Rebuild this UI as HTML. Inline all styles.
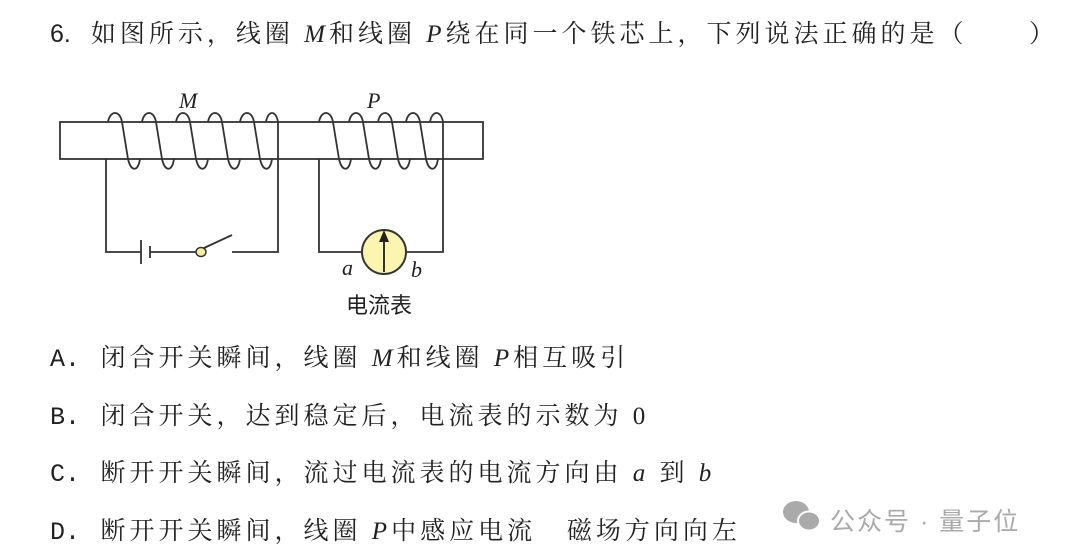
<!DOCTYPE html>
<html><head><meta charset="utf-8"><style>
body{margin:0;width:1080px;height:559px;background:#fff;position:relative;overflow:hidden;font-family:"Liberation Serif","Noto Serif CJK SC",serif;color:#222}
.t{position:absolute;font-size:25px;letter-spacing:4px;white-space:nowrap;line-height:30px}
.n{font-family:"Liberation Mono",monospace;letter-spacing:0}
i{font-family:"Liberation Serif",serif}
svg{position:absolute;left:0;top:0}
</style></head><body>
<div class="t" style="left:50px;top:19px"><span class="n" style="font-family:'Liberation Sans',sans-serif">6.</span><span style="display:inline-block;width:20px"></span>如图所示，线圈 <i>M</i>和线圈 <i>P</i>绕在同一个铁芯上，下列说法正确的是（&nbsp;&nbsp;&nbsp;&nbsp;&nbsp;&nbsp;）</div>
<div class="t" style="left:50px;top:344px"><span class="n">A.</span>&nbsp; 闭合开关瞬间，线圈 <i>M</i>和线圈 <i>P</i>相互吸引</div>
<div class="t" style="left:50px;top:402px"><span class="n">B.</span>&nbsp; 闭合开关，达到稳定后，电流表的示数为 0</div>
<div class="t" style="left:50px;top:459px"><span class="n">C.</span>&nbsp; 断开开关瞬间，流过电流表的电流方向由 <i>a</i> 到 <i>b</i></div>
<div class="t" style="left:50px;top:517px"><span class="n">D.</span>&nbsp; 断开开关瞬间，线圈 <i>P</i>中感应电流&nbsp;&nbsp; 磁场方向向左</div>
<div style="position:absolute;left:830px;top:502px;font-family:'Liberation Sans','Noto Sans CJK SC',sans-serif;font-size:25px;color:#aaa;letter-spacing:2px">公众号 · 量子位</div>
<svg width="1080" height="559" viewBox="0 0 1080 559">
<g fill="#aaa"><ellipse cx="796" cy="512" rx="13" ry="11"/><ellipse cx="809" cy="521" rx="11" ry="9.5" stroke="#fff" stroke-width="2"/></g>
<g fill="none" stroke="#333" stroke-width="1.8">
<rect x="60" y="122" width="423" height="37"/>
<path d="M106 159V252H141M150 252H197M232 252H278V159M319 159V252H362M406 252H443V159"/>
<path d="M141 240V264M150 246V258"/>
<path d="M204 248L232 235"/>
<path d="M108 122C110 110 120 110 122 122L128 159C131 172 138 172 140 159"/>
<path d="M142 122C144 110 154 110 156 122L162 159C165 172 172 172 174 159"/>
<path d="M176 122C178 110 188 110 190 122L196 159C199 172 206 172 208 159"/>
<path d="M208 122C210 110 220 110 222 122L228 159C231 172 238 172 240 159"/>
<path d="M240 122C242 110 252 110 254 122L260 159C263 172 270 172 272 159"/>
<path d="M266 122C268 110 276 110 278 122V159"/>
<path d="M319 122C321 110 331 110 333 122L339 159C342 172 349 172 351 159"/>
<path d="M349 122C351 110 361 110 363 122L369 159C372 172 379 172 381 159"/>
<path d="M378 122C380 110 390 110 392 122L398 159C401 172 408 172 410 159"/>
<path d="M406 122C408 110 418 110 420 122L426 159C429 172 436 172 438 159"/>
<path d="M430 122C432 110 441 110 443 122V159"/>
</g>
<ellipse cx="201" cy="252" rx="5" ry="4.5" fill="#f6eea0" stroke="#333" stroke-width="1.5"/>
<circle cx="384" cy="252" r="22" fill="#fbf5b0" stroke="#333" stroke-width="2"/>
<path d="M384 272V236" stroke="#333" stroke-width="2"/>
<path d="M379 242L384 230L389 242Z" fill="#222"/>
<text x="179" y="108" font-family="Liberation Serif" font-style="italic" font-size="22" fill="#222">M</text>
<text x="367" y="108" font-family="Liberation Serif" font-style="italic" font-size="22" fill="#222">P</text>
<text x="342" y="275" font-family="Liberation Serif" font-style="italic" font-size="22" fill="#222">a</text>
<text x="411" y="277" font-family="Liberation Serif" font-style="italic" font-size="22" fill="#222">b</text>
<text x="346" y="313" font-family="Liberation Sans,Noto Sans CJK SC,sans-serif" font-size="22" fill="#222">电流表</text>
</svg>
</body></html>
